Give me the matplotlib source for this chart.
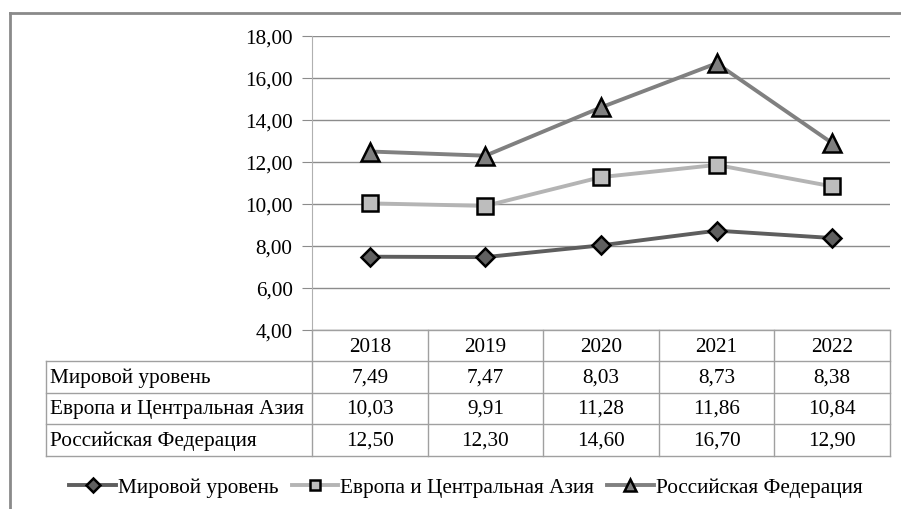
import matplotlib
matplotlib.use("Agg")
import matplotlib.pyplot as plt
from matplotlib.lines import Line2D
from matplotlib.transforms import blended_transform_factory

FAM = 'Liberation Serif'
plt.rcParams['font.family'] = FAM

years = ['2018', '2019', '2020', '2021', '2022']
world = [7.49, 7.47, 8.03, 8.73, 8.38]
europe = [10.03, 9.91, 11.28, 11.86, 10.84]
russia = [12.50, 12.30, 14.60, 16.70, 12.90]
names = ['Мировой уровень', 'Европа и Центральная Азия', 'Российская Федерация']
yticks = [4, 6, 8, 10, 12, 14, 16, 18]

W, H = 901, 510
FS = 15.3
fig = plt.figure(figsize=(W / 100, H / 100), dpi=100)

def fy(y):
    return 1 - y / H

def fx(x):
    return x / W

# plot area
ax = fig.add_axes([fx(312), fy(331), fx(890) - fx(312), fy(37) - fy(331)])
x = range(len(years))

styles = [
    (world, '#5e5e5e', 'D', 9.5, '#606060'),
    (europe, '#b4b4b4', 's', 11, '#bdbdbd'),
    (russia, '#808080', '^', 12.5, '#7f7f7f'),
]
handles = []
for (vals, lc, mk, ms, mf), name in zip(styles, names):
    ln, = ax.plot(x, vals, color=lc, lw=2.8, marker=mk, markersize=ms,
                  markerfacecolor=mf, markeredgecolor='black', markeredgewidth=1.8,
                  label=name, zorder=3)
    handles.append(ln)

ax.set_xlim(-0.5, len(years) - 0.5)
ax.set_ylim(4, 18)
ax.set_yticks(yticks)
ax.set_yticklabels([f'{v:.2f}'.replace('.', ',') for v in yticks],
                   fontsize=FS, family=FAM)
ax.set_xticks([])
ax.yaxis.grid(True, color='#8c8c8c', lw=1)
ax.set_axisbelow(True)
for s in ['top', 'right', 'bottom']:
    ax.spines[s].set_visible(False)
ax.spines['left'].set_color('#b0b0b0')
ax.tick_params(axis='y', length=7, color='#8c8c8c', pad=7)

# data table under the plot
grey = '#a0a0a0'
rows_y = [331, 362, 394, 425, 457]
tr = blended_transform_factory(ax.transData, fig.transFigure)
col_edges = [i - 0.5 for i in range(len(years) + 1)]

for y in rows_y[1:]:
    fig.add_artist(Line2D([fx(46), fx(890)], [fy(y), fy(y)], color=grey, lw=1))
fig.add_artist(Line2D([fx(312), fx(890)], [fy(331), fy(331)], color=grey, lw=1))
for ce in col_edges:
    ax.add_line(Line2D([ce, ce], [fy(331), fy(457)], transform=tr, color=grey,
                       lw=1, clip_on=False))
fig.add_artist(Line2D([fx(46), fx(46)], [fy(362), fy(457)], color=grey, lw=1))

for i, yr in enumerate(years):
    ax.text(i, fy(347), yr, transform=tr, ha='center', va='center',
            fontsize=FS, family=FAM)
for r, (vals, name) in enumerate(zip([world, europe, russia], names)):
    yc = fy((rows_y[r + 1] + rows_y[r + 2]) / 2)
    fig.text(fx(50), yc, name, ha='left', va='center', fontsize=FS, family=FAM)
    for i, v in enumerate(vals):
        ax.text(i, yc, f'{v:.2f}'.replace('.', ','), transform=tr,
                ha='center', va='center', fontsize=FS, family=FAM)

# outer frame (partly clipped in the original)
frame = '#8a8a8a'
fig.add_artist(Line2D([fx(10), fx(10)], [fy(14), 0], color=frame, lw=2))
fig.add_artist(Line2D([fx(10), 1], [fy(14), fy(14)], color=frame, lw=2))

fig.legend(handles=handles, loc='center', bbox_to_anchor=(fx(466), fy(488)),
           ncol=3, frameon=False, prop={'family': FAM, 'size': FS},
           handlelength=2.2, handletextpad=0.1, columnspacing=0.6,
           markerscale=0.7)

fig.savefig('out.png', dpi=100)
